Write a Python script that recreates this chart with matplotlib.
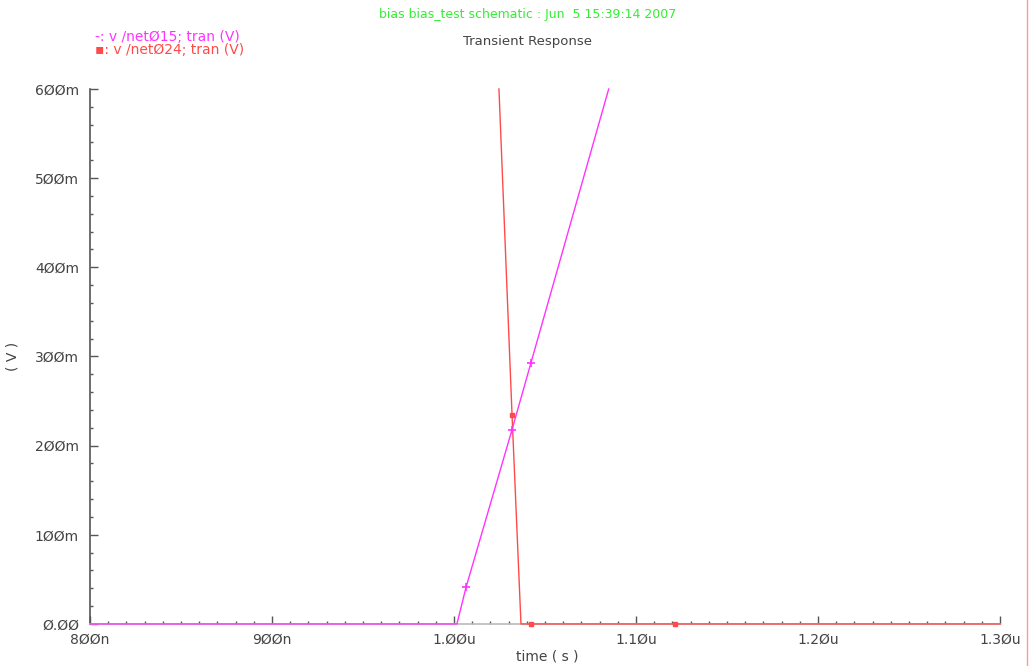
import matplotlib
matplotlib.use('Agg')
import matplotlib.pyplot as plt
from matplotlib.lines import Line2D
from matplotlib.ticker import MultipleLocator, FixedFormatter, FixedLocator

# net015 rising ramp (time in us, voltage in V)
t_net015 = [0.80, 1.0016, 1.0066, 1.0319, 1.0423, 1.085]
v_net015 = [0.0, 0.0, 0.041, 0.218, 0.293, 0.600]
# sample markers on net015
mk_t_net015 = [1.0066, 1.0319, 1.0423]
mk_v_net015 = [0.041, 0.218, 0.293]

# net024 falling edge
t_net024 = [1.0247, 1.0319, 1.0368, 1.0423, 1.1214, 1.30]
v_net024 = [0.600, 0.234, 0.0, 0.0, 0.0, 0.0]
mk_t_net024 = [1.0319, 1.0423, 1.1214]
mk_v_net024 = [0.234, 0.0, 0.0]

x_ticks = [0.80, 0.90, 1.00, 1.10, 1.20, 1.30]
x_labels = ['8ØØn', '9ØØn', '1.ØØu', '1.1Øu', '1.2Øu', '1.3Øu']
y_ticks = [0.0, 0.1, 0.2, 0.3, 0.4, 0.5, 0.6]
y_labels = ['Ø.ØØ', '1ØØm', '2ØØm', '3ØØm', '4ØØm', '5ØØm', '6ØØm']

MAGENTA = '#ff33ff'
RED = '#ff4a4a'
TXT = '#444444'

fig = plt.figure(figsize=(10.32, 6.66), dpi=100)
ax = fig.add_axes([0.0872, 0.0631, 0.8818, 0.8033])

# traces are not clipped so the flat parts on 0 V show fully
ax.plot(t_net015, v_net015, color=MAGENTA, lw=1.0, clip_on=False, zorder=3)
ax.plot(mk_t_net015, mk_v_net015, ls='none', marker='+', ms=6, mew=1.2,
        color=MAGENTA, zorder=4, clip_on=False)
ax.plot(t_net024, v_net024, color=RED, lw=1.0, clip_on=False, zorder=3)
ax.plot(mk_t_net024, mk_v_net024, ls='none', marker='s', ms=3, color=RED,
        zorder=4, clip_on=False)

ax.set_xlim(0.80, 1.30)
ax.set_ylim(0.0, 0.6)

ax.xaxis.set_major_locator(FixedLocator(x_ticks))
ax.xaxis.set_major_formatter(FixedFormatter(x_labels))
ax.xaxis.set_minor_locator(MultipleLocator(0.01))
ax.yaxis.set_major_locator(FixedLocator(y_ticks))
ax.yaxis.set_major_formatter(FixedFormatter(y_labels))
ax.yaxis.set_minor_locator(MultipleLocator(0.02))

for side in ['top', 'right']:
    ax.spines[side].set_visible(False)
ax.spines['left'].set_color('#555555')
ax.spines['left'].set_linewidth(1.2)
ax.spines['bottom'].set_color('#bbbbbb')
ax.spines['bottom'].set_linewidth(1.2)

ax.tick_params(which='major', direction='in', length=6, width=1,
               color='#555555', labelcolor=TXT, labelsize=10)
ax.tick_params(which='minor', direction='in', length=2, width=1,
               color='#555555')
ax.tick_params(axis='y', pad=8)
ax.tick_params(axis='x', pad=6)

ax.set_xlabel('time ( s )', color=TXT, fontsize=10)
ax.set_ylabel('( V )', color=TXT, fontsize=10)
ax.xaxis.set_label_coords(0.503, -0.047)
ax.yaxis.set_label_coords(-0.077, 0.5)

fig.text(0.5116, 0.978, 'bias bias_test schematic : Jun  5 15:39:14 2007',
         color='#33ee33', fontsize=9, ha='center', va='center')
fig.text(0.5116, 0.937, 'Transient Response', color=TXT, fontsize=9.5,
         ha='center', va='center')
fig.text(0.092, 0.944, '-: v /netØ15; tran (V)', color=MAGENTA, fontsize=10,
         ha='left', va='center')
fig.text(0.092, 0.925, '▪: v /netØ24; tran (V)', color=RED, fontsize=10,
         ha='left', va='center')

# window border on the right
fig.add_artist(Line2D([0.9951, 0.9951], [0.0, 1.0], color='#ff9999', lw=1.0,
                      transform=fig.transFigure))

fig.savefig('out.png', dpi=100, facecolor='white')
